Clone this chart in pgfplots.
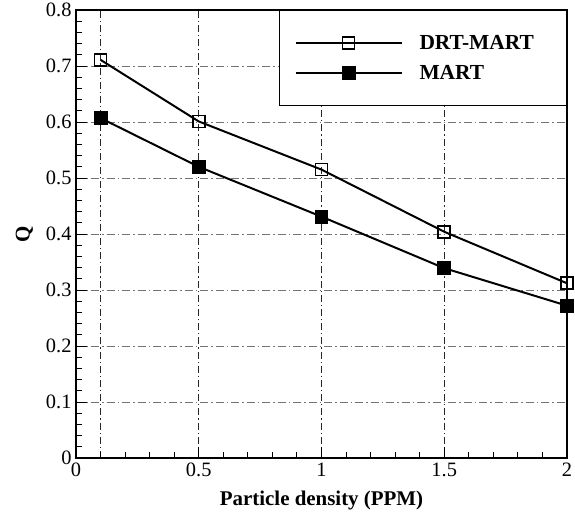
\documentclass[border=0pt]{standalone}
\usepackage{pgfplots}
\pgfplotsset{compat=1.18}
\usepackage{fontspec}
\setmainfont{Liberation Serif}
\begin{document}
\begin{tikzpicture}
\path[use as bounding box] (-76bp,-59bp) rectangle (499bp,458bp);
\begin{axis}[
  at={(0,0)}, anchor=south west,
  scale only axis,
  width=491bp, height=448bp,
  xmin=0, xmax=2, ymin=0, ymax=0.8,
  xtick={0,0.5,1,1.5,2},
  xticklabels={0,0.5,1,1.5,2},
  ytick={0,0.1,0.2,0.3,0.4,0.5,0.6,0.7,0.8},
  yticklabels={0,0.1,0.2,0.3,0.4,0.5,0.6,0.7,0.8},
  minor x tick num=4, minor y tick num=4,
  extra x ticks={0.1}, extra x tick labels={},
  extra x tick style={grid=major, major tick length=6bp},
  tick pos=left, tick align=inside,
  major tick length=11bp, minor tick length=6bp,
  every tick/.style={black, line width=1pt},
  axis line style={line width=2.2pt},
  grid=major,
  x grid style={black!85, line width=0.7pt, dash pattern=on 7bp off 3bp on 1.2bp off 3bp},
  y grid style={black!55, line width=1pt, dash pattern=on 8bp off 3bp on 1.5bp off 3bp},
  ymajorgrids=true,
  tick label style={font=\fontsize{20.5}{20.5}\selectfont},
  xticklabel style={yshift=-1bp},
  yticklabel style={xshift=-1bp},
  xlabel={\textbf{Particle density (PPM)}},
  ylabel={\textbf{Q}},
  label style={font=\fontsize{21}{21}\selectfont},
  xlabel style={yshift=-8bp},
  ylabel style={yshift=6bp},
  legend style={at={(rel axis cs:1,1)}, anchor=north east,
    draw=black, line width=1pt, inner xsep=15bp, inner ysep=23bp,
    row sep=10bp, font=\fontsize{21.5}{21.5}\selectfont, cells={anchor=west}},
  legend image code/.code={
    \draw[#1, mark repeat=2, mark phase=2] plot coordinates {(0bp,0bp) (53bp,0bp) (106bp,0bp)};
  },
]
\addplot[black, line width=2pt, mark=square, mark size=6bp, mark options={solid, fill=white, line width=1.8pt}]
  coordinates {(0.1,0.711) (0.5,0.601) (1,0.515) (1.5,0.404) (2,0.312)};
\addlegendentry{\hspace{15bp}\makebox[130bp][l]{\textbf{DRT-MART}}}
\addplot[black, line width=2pt, mark=square*, mark size=6bp, mark options={solid, fill=black}]
  coordinates {(0.1,0.607) (0.5,0.520) (1,0.431) (1.5,0.339) (2,0.272)};
\addlegendentry{\hspace{15bp}\makebox[130bp][l]{\textbf{MART}}}
\end{axis}
\end{tikzpicture}
\end{document}
